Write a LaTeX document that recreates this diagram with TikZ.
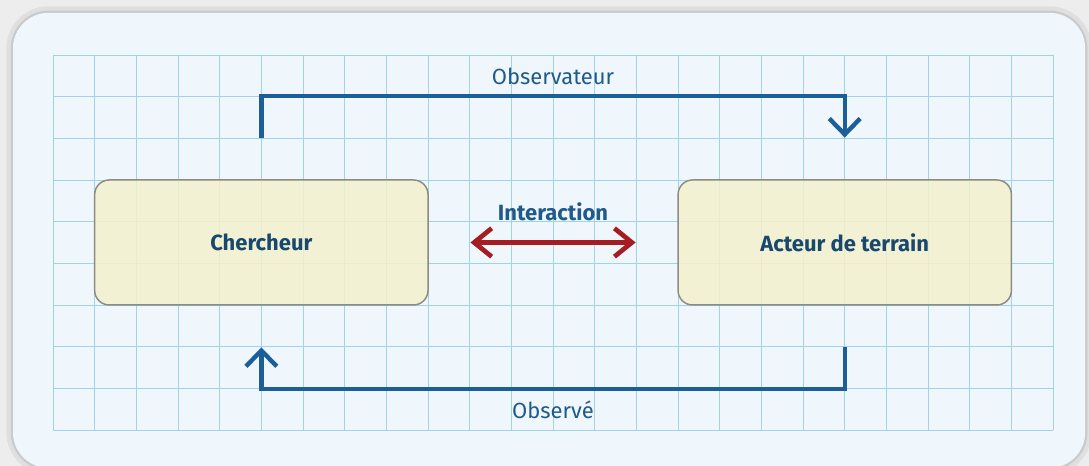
\documentclass[tikz,border=0pt]{standalone}
\usepackage{fontspec}
\setmainfont{Fira Sans}
\usetikzlibrary{arrows.meta}

\definecolor{panelblue}{HTML}{EFF7FC}
\definecolor{gridblue}{HTML}{9FD3E8}
\definecolor{boxyellow}{HTML}{F4F1CD}
\definecolor{boxgray}{HTML}{8C8C84}
\definecolor{flowblue}{HTML}{1B5E98}
\definecolor{textblue}{HTML}{1F5A8A}
\definecolor{flowred}{HTML}{A51D22}

\tikzset{
  actor/.style={draw=boxgray, line width=1pt, fill=boxyellow, fill opacity=0.85,
    text opacity=1, rounded corners=0.35cm, minimum width=8cm, minimum height=3cm,
    font=\fontsize{15}{17}\selectfont\bfseries, text=textblue!80!black},
  flow/.style={draw=flowblue, line width=3pt,
    -{Straight Barb[length=0.38cm, width=0.74cm]}, shorten <=1cm, shorten >=1cm},
  exchange/.style={draw=flowred, line width=3.2pt,
    {Straight Barb[length=0.42cm, width=0.68cm]}-{Straight Barb[length=0.42cm, width=0.68cm]},
    shorten <=1cm, shorten >=1cm},
  flowlabel/.style={font=\fontsize{15}{17}\selectfont, text=textblue}
}

\begin{document}
\begin{tikzpicture}
    \useasboundingbox (-1.272,-0.864) rectangle (24.862,10.319);

    % Background
    \fill[gray!14] (-1.272,-0.864) rectangle (24.862,10.319);
    \draw[gray, opacity=0.12, line width=9pt, rounded corners=0.85cm] (-0.96,-0.91) rectangle (24.77,10.01);
    \draw[gray, opacity=0.22, line width=3pt, rounded corners=0.85cm] (-0.96,-0.91) rectangle (24.77,10.01);
    \fill[panelblue, rounded corners=0.85cm] (-0.96,-0.91) rectangle (24.77,10.01);
    \draw[gridblue, line width=0.6pt] (0,0) grid (24,9);

    % Nodes
    \node[actor] (chercheur) at (5,4.5) {Chercheur};
    \node[actor] (acteur) at (19,4.5) {Acteur de terrain};

    % Edges
    \draw[flow] (chercheur.north) -- ++(0,2)
      -| node[pos=0.25, above=3pt, flowlabel] {Observateur} (acteur.north);
    \draw[flow] (acteur.south) -- ++(0,-2)
      -| node[pos=0.25, below=3pt, flowlabel] {Observé} (chercheur.south);
    \draw[exchange] (chercheur) -- node[midway, above=10pt, flowlabel, font=\fontsize{15}{17}\selectfont\bfseries] {Interaction} (acteur);
\end{tikzpicture}
\end{document}
